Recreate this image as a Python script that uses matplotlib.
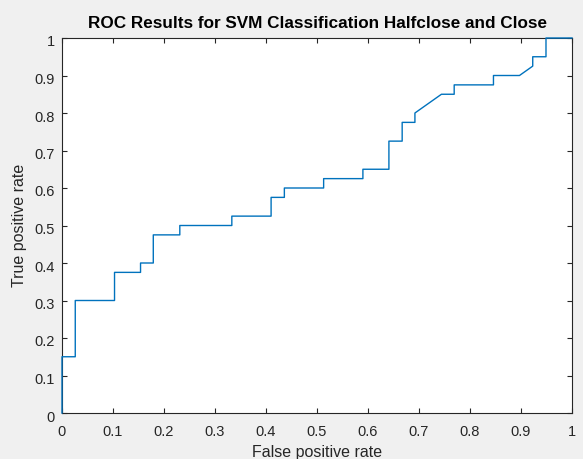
import matplotlib
matplotlib.use("Agg")
import matplotlib.pyplot as plt
import matplotlib.transforms as mtransforms

# ROC curve points (false positive rate, true positive rate)
fpr = [0.0, 0.0, 0.026, 0.026, 0.103, 0.103, 0.154, 0.154, 0.179, 0.179,
       0.231, 0.231, 0.333, 0.333, 0.410, 0.410, 0.436, 0.436, 0.513, 0.513,
       0.590, 0.590, 0.641, 0.641, 0.667, 0.667, 0.692, 0.692, 0.744, 0.769,
       0.769, 0.846, 0.846, 0.897, 0.923, 0.923, 0.949, 0.949, 1.0]
tpr = [0.0, 0.15, 0.15, 0.30, 0.30, 0.375, 0.375, 0.40, 0.40, 0.475,
       0.475, 0.50, 0.50, 0.525, 0.525, 0.575, 0.575, 0.60, 0.60, 0.625,
       0.625, 0.65, 0.65, 0.725, 0.725, 0.775, 0.775, 0.80, 0.85, 0.85,
       0.875, 0.875, 0.90, 0.90, 0.925, 0.95, 0.95, 1.0, 1.0]

xticks = [0, 0.1, 0.2, 0.3, 0.4, 0.5, 0.6, 0.7, 0.8, 0.9, 1]
yticks = [0, 0.1, 0.2, 0.3, 0.4, 0.5, 0.6, 0.7, 0.8, 0.9, 1]
xtick_labels = ["0", "0.1", "0.2", "0.3", "0.4", "0.5", "0.6", "0.7", "0.8", "0.9", "1"]
ytick_labels = ["0", "0.1", "0.2", "0.3", "0.4", "0.5", "0.6", "0.7", "0.8", "0.9", "1"]

plt.rcParams["font.family"] = ["Liberation Sans", "DejaVu Sans"]

W, H = 583, 459
fig = plt.figure(figsize=(W / 100, H / 100), dpi=100, facecolor="#f0f0f0")
ax = fig.add_axes([62 / W, 1 - 413 / H, (572 - 62) / W, (413 - 38) / H])
ax.set_facecolor("white")

ax.plot(fpr, tpr, color="#0072BD", linewidth=1.0, clip_on=False, zorder=3)

ax.set_xlim(0, 1)
ax.set_ylim(0, 1)
ax.set_xticks(xticks)
ax.set_xticklabels(xtick_labels)
ax.set_yticks(yticks)
ax.set_yticklabels(ytick_labels)

axis_color = "#262626"
for sp in ax.spines.values():
    sp.set_color(axis_color)
    sp.set_linewidth(0.8)
ax.tick_params(direction="in", length=3.6, width=0.8, colors=axis_color,
               labelsize=10.5, top=True, right=True)
ax.tick_params(axis="x", pad=8.5)
ax.tick_params(axis="y", pad=5)

# nudge y tick labels slightly downward
shift = mtransforms.ScaledTranslation(0, -3 / 100, fig.dpi_scale_trans)
for lbl in ax.get_yticklabels():
    lbl.set_transform(lbl.get_transform() + shift)

ax.text(0.5, 1 + (38 - 24) / 375, "ROC Results for SVM Classification Halfclose and Close",
        transform=ax.transAxes, ha="center", va="center",
        fontsize=12.3, fontweight="bold", color="black")

ax.set_xlabel("False positive rate", fontsize=11.5, color=axis_color, va="center")
ax.xaxis.set_label_coords(0.5, (413 - 452) / 375)
ax.set_ylabel("True positive rate", fontsize=11.5, color=axis_color, va="center")
ax.yaxis.set_label_coords((20 - 62) / 510, 0.5)

fig.savefig("out.png", dpi=100, facecolor=fig.get_facecolor())
